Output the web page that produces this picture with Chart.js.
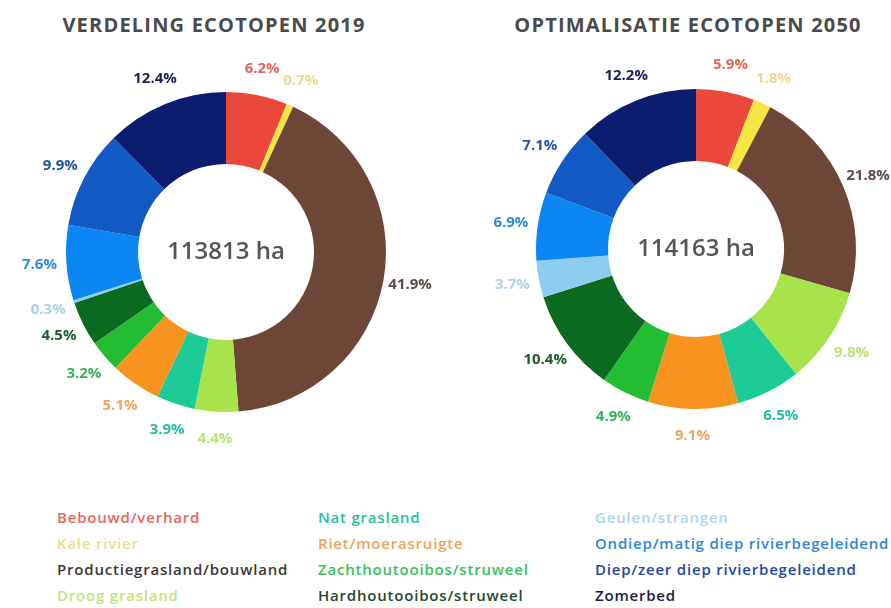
<!DOCTYPE html>
<html>
<head>
<meta charset="utf-8">
<script src="https://cdn.jsdelivr.net/npm/chart.js@4"></script>
<style>
  html, body { margin: 0; padding: 0; background: #fff; overflow: hidden; }
  body { width: 891px; height: 608px; position: relative; font-family: 'Open Sans', sans-serif; }
  .title { position: absolute; top: 11px; font-weight: 700; font-size: 20px; letter-spacing: 1.2px; color: #4a4a4a; text-align: center; width: 420px; }
  .chart-box { position: absolute; width: 450px; height: 400px; }
  .legend { position: absolute; top: 507px; left: 0; width: 891px; height: 100px; }
  .legend span { position: absolute; font-size: 15px; font-weight: 600; letter-spacing: 0.8px; white-space: nowrap; }
</style>
</head>
<body>
<div class="title" style="left:4px">VERDELING ECOTOPEN 2019</div>
<div class="title" style="left:478px">OPTIMALISATIE ECOTOPEN 2050</div>
<div class="chart-box" style="left:1px; top:52px"><canvas id="chart2019"></canvas></div>
<div class="chart-box" style="left:471px; top:49px"><canvas id="chart2050"></canvas></div>
<div class="legend" id="legend"></div>
<script>
const categories = [
    'Bebouwd/verhard', 'Kale rivier', 'Productiegrasland/bouwland', 'Droog grasland',
    'Nat grasland', 'Riet/moerasruigte', 'Zachthoutooibos/struweel', 'Hardhoutooibos/struweel',
    'Geulen/strangen', 'Ondiep/matig diep rivierbegeleidend', 'Diep/zeer diep rivierbegeleidend', 'Zomerbed'
];
const values2019 = [6.2, 0.7, 41.9, 4.4, 3.9, 5.1, 3.2, 4.5, 0.3, 7.6, 9.9, 12.4];
const values2050 = [5.9, 1.8, 21.8, 9.8, 6.5, 9.1, 4.9, 10.4, 3.7, 6.9, 7.1, 12.2];
const totals = ['113813 ha', '114163 ha'];

const sliceColors = ['#E9483B', '#F5E642', '#6D4637', '#A8E34C', '#1DCB97', '#F7931E',
    '#22BD32', '#0A6A20', '#8CCDF0', '#0C86F2', '#1259C3', '#0C1C6E'];
const textColors = ['#E86458', '#F2D88C', '#5E4A44', '#B9E276', '#27BDA4', '#F2A45C',
    '#35B45A', '#1D5A2C', '#A9D3E6', '#2F8BD8', '#2153A8', '#1B2156'];
const legendColors = ['#E8675C', '#F4DA8E', '#3F3636', '#BFE47A', '#22BFA0', '#F2A35A',
    '#3BC05C', '#1E4B2A', '#AAD6EA', '#2C86DA', '#2149A6', '#1B1D45'];

// percent labels placed just outside each slice
const outsideLabels = {
    id: 'outsideLabels',
    afterDatasetsDraw(chart) {
        const ctx = chart.ctx;
        const data = chart.data.datasets[0].data;
        ctx.save();
        ctx.font = '700 15px "Open Sans"';
        ctx.textAlign = 'center';
        ctx.textBaseline = 'middle';
        chart.getDatasetMeta(0).data.forEach((arc, i) => {
            const mid = (arc.startAngle + arc.endAngle) / 2;
            const r = arc.outerRadius + 27;
            ctx.fillStyle = textColors[i];
            ctx.fillText(data[i].toFixed(1) + '%', arc.x + Math.cos(mid) * r, arc.y + Math.sin(mid) * r);
        });
        ctx.restore();
    }
};

const centerText = {
    id: 'centerText',
    afterDatasetsDraw(chart, args, opts) {
        const arc = chart.getDatasetMeta(0).data[0];
        const ctx = chart.ctx;
        ctx.save();
        ctx.font = '600 24px "Open Sans"';
        ctx.fillStyle = '#555555';
        ctx.textAlign = 'center';
        ctx.textBaseline = 'middle';
        ctx.fillText(opts.text, arc.x, arc.y);
        ctx.restore();
    }
};

function makeDonut(id, values, total) {
    return new Chart(document.getElementById(id), {
        type: 'doughnut',
        data: {
            labels: categories,
            datasets: [{ data: values, backgroundColor: sliceColors, borderWidth: 0 }]
        },
        options: {
            responsive: true, maintainAspectRatio: false, animation: false,
            cutout: '55%',
            layout: { padding: { left: 65, right: 65, top: 40, bottom: 40 } },
            plugins: { legend: { display: false }, tooltip: { enabled: false }, centerText: { text: total } }
        },
        plugins: [outsideLabels, centerText]
    });
}

makeDonut('chart2019', values2019, totals[0]);
makeDonut('chart2050', values2050, totals[1]);

// legend: 3 columns x 4 rows, coloured text only
const legend = document.getElementById('legend');
const colX = [57, 318, 595];
const rowY = [0, 26, 52, 78];
legend.innerHTML = categories.map((name, i) =>
    `<span style="left:${colX[Math.floor(i / 4)]}px; top:${rowY[i % 4]}px; color:${legendColors[i]}">${name}</span>`
).join('');
</script>
</body>
</html>
